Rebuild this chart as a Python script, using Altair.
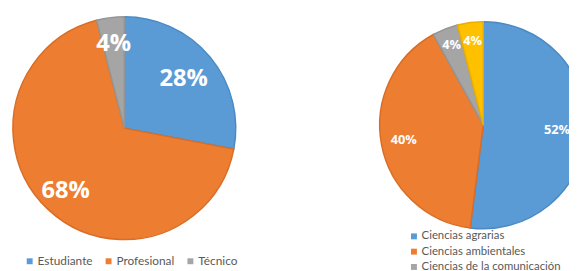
import altair as alt
import pandas as pd

left_cats = ["Estudiante", "Profesional", "Técnico"]
left_vals = [28, 68, 4]
left_colors = ["#5B9BD5", "#ED7D31", "#A5A5A5"]
left_strokes = ["#4A8AC4", "#D96D25", "#959595"]

right_cats = ["Ciencias agrarias", "Ciencias ambientales", "Ciencias de la comunicación", "Otras"]
right_vals = [52, 40, 4, 4]
right_colors = ["#5B9BD5", "#ED7D31", "#A5A5A5", "#FFC000"]
right_strokes = ["#4A8AC4", "#D96D25", "#959595", "#E8AE00"]

left_df = pd.DataFrame({"cat": left_cats, "val": left_vals, "ord": list(range(len(left_cats)))})
right_df = pd.DataFrame({"cat": right_cats, "val": right_vals, "ord": list(range(len(right_cats)))})

FONT = "Open Sans"
LEG_FONT = "Lato"
LCX, LCY, LR = 118, 120, 113
RCX, RCY, RR = 482, 117, 105


def pie(df, cats, colors, strokes, cx, cy, r, legend):
    return alt.Chart(df).mark_arc(radius=r, strokeWidth=1.5).encode(
        theta=alt.Theta("val:Q", stack=True),
        color=alt.Color("cat:N", scale=alt.Scale(domain=cats, range=colors), legend=legend),
        stroke=alt.Stroke("cat:N", scale=alt.Scale(domain=cats, range=strokes), legend=None),
        order=alt.Order("ord:Q"),
        x=alt.value(cx),
        y=alt.value(cy),
    )


def label(df, cat, cx, cy, r, size):
    return alt.Chart(df).transform_calculate(
        lab=f"datum.cat === '{cat}' ? datum.val + '%' : ''"
    ).mark_text(radius=r, fontSize=size, fontWeight="bold", font=FONT, color="white").encode(
        theta=alt.Theta("val:Q", stack=True),
        order=alt.Order("ord:Q"),
        text="lab:N",
        x=alt.value(cx),
        y=alt.value(cy),
    )


left_legend = alt.Legend(
    orient="none", legendX=16, legendY=249, direction="horizontal", title=None,
    symbolType="square", symbolSize=36, symbolStrokeWidth=0,
    labelFontSize=12, labelColor="#595959", labelFont=LEG_FONT,
    columnPadding=10, labelOffset=2,
)
right_legend = alt.Legend(
    orient="none", legendX=406, legendY=224, direction="vertical", title=None,
    values=right_cats[:3],
    symbolType="square", symbolSize=36, symbolStrokeWidth=0,
    labelFontSize=11.5, labelColor="#595959", labelFont=LEG_FONT,
    rowPadding=2.5, labelOffset=2,
)

layers = [
    pie(left_df, left_cats, left_colors, left_strokes, LCX, LCY, LR, left_legend),
    pie(right_df, right_cats, right_colors, right_strokes, RCX, RCY, RR, right_legend),
    label(left_df, "Estudiante", LCX, LCY, 78, 24),
    label(left_df, "Profesional", LCX, LCY, 87, 24),
    label(left_df, "Técnico", LCX, LCY, 86, 24),
    label(right_df, "Ciencias agrarias", RCX, RCY, 75, 13),
    label(right_df, "Ciencias ambientales", RCX, RCY, 82, 13),
    label(right_df, "Ciencias de la comunicación", RCX, RCY, 87, 13),
    label(right_df, "Otras", RCX, RCY, 86, 13),
]

chart = alt.layer(*layers).resolve_scale(
    color="independent", stroke="independent", theta="independent"
).properties(
    width=569, height=263, padding=0, autosize="none", background="white"
).configure_view(stroke=None)

chart.save("out.html", embed_options={"renderer": "svg", "actions": False})
